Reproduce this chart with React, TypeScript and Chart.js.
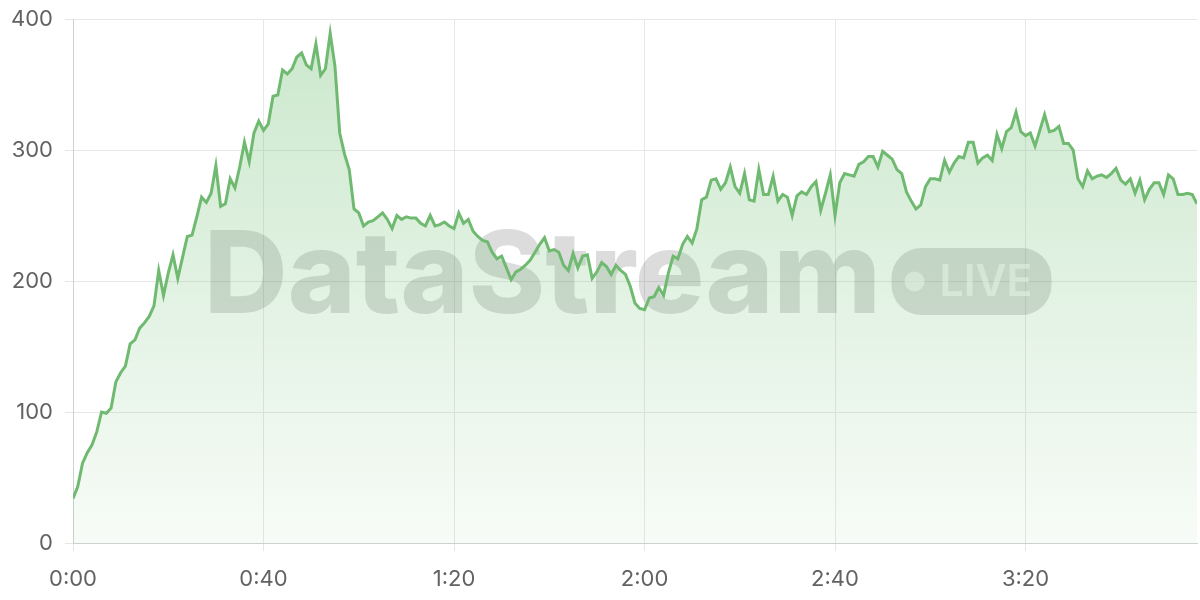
import React, { useEffect, useRef } from "react";
import { Chart, registerables } from "chart.js";

Chart.register(...registerables);

// one sample per second, 0:00 .. 3:56
const throughput: number[] = [
  34, 43, 61, 69, 75, 85, 100, 99, 103, 123,
  130, 135, 152, 155, 164, 168, 173, 181, 208, 189,
  206, 220, 202, 218, 234, 235, 249, 264, 260, 267,
  288, 257, 259, 278, 271, 287, 306, 291, 313, 322,
  315, 320, 341, 342, 361, 358, 362, 371, 374, 365,
  362, 381, 357, 362, 389, 364, 313, 297, 285, 255,
  252, 242, 245, 246, 249, 252, 247, 240, 250, 247,
  249, 248, 248, 244, 242, 250, 242, 243, 245, 242,
  240, 252, 244, 247, 238, 234, 231, 230, 222, 217,
  219, 210, 201, 207, 209, 212, 216, 222, 228, 233,
  223, 224, 222, 212, 208, 221, 210, 219, 220, 202,
  207, 214, 211, 205, 212, 208, 205, 196, 183, 179,
  178, 187, 188, 195, 189, 206, 219, 217, 228, 234,
  229, 240, 262, 264, 277, 278, 270, 275, 287, 272,
  267, 282, 262, 261, 285, 266, 266, 280, 261, 266,
  264, 250, 265, 268, 266, 272, 276, 254, 267, 281,
  250, 275, 282, 281, 280, 289, 291, 295, 295, 287,
  299, 296, 293, 285, 282, 268, 261, 255, 258, 272,
  278, 278, 277, 292, 283, 290, 295, 294, 306, 306,
  290, 294, 296, 292, 312, 301, 314, 317, 329, 314,
  311, 313, 303, 315, 327, 314, 315, 318, 305, 305,
  300, 278, 272, 284, 278, 280, 281, 279, 282, 286,
  277, 274, 278, 267, 277, 262, 270, 275, 275, 266,
  281, 278, 266, 266, 267, 266, 259,
];

const seconds: number[] = throughput.map((_, i) => i);

const xTickStepSeconds = 40;
const yMin = 0;
const yMax = 400;
const yTickStep = 100;

const watermarkText = "DataStream";
const badgeText = "LIVE";

const LINE_COLOR = "#6fba70";
const GRID_COLOR = "#e7e7e7";
const AXIS_COLOR = "#d0d0d0";
const TICK_COLOR = "#626262";
const FONT = "Inter, 'Noto Sans', sans-serif";

function formatTime(v: number): string {
  const m = Math.floor(v / 60);
  const s = Math.round(v % 60);
  return `${m}:${String(s).padStart(2, "0")}`;
}

const watermarkPlugin = {
  id: "watermark",
  beforeDatasetsDraw(chart: any) {
    const { ctx, chartArea: ca } = chart;
    if (!ca) return;
    ctx.save();
    ctx.fillStyle = "rgba(60,60,60,0.18)";
    ctx.font = `800 114px ${FONT}`;
    ctx.textBaseline = "alphabetic";
    ctx.textAlign = "left";
    const textLeft = ca.left + 131;
    const baseline = ca.top + 294;
    const targetW = 677;
    const w = ctx.measureText(watermarkText).width;
    ctx.save();
    ctx.translate(textLeft, baseline);
    ctx.scale(targetW / w, 1);
    ctx.fillText(watermarkText, 0, 0);
    ctx.restore();

    const bx = ca.left + 818.5;
    const by = ca.top + 229;
    const bw = 160;
    const bh = 67;
    const r = 30;
    ctx.beginPath();
    ctx.moveTo(bx + r, by);
    ctx.lineTo(bx + bw - r, by);
    ctx.arcTo(bx + bw, by, bx + bw, by + r, r);
    ctx.lineTo(bx + bw, by + bh - r);
    ctx.arcTo(bx + bw, by + bh, bx + bw - r, by + bh, r);
    ctx.lineTo(bx + r, by + bh);
    ctx.arcTo(bx, by + bh, bx, by + bh - r, r);
    ctx.lineTo(bx, by + r);
    ctx.arcTo(bx, by, bx + r, by, r);
    ctx.closePath();
    ctx.fill();

    ctx.fillStyle = "rgba(255,255,255,0.6)";
    ctx.beginPath();
    ctx.arc(bx + 23, by + bh / 2, 10, 0, Math.PI * 2);
    ctx.fill();

    ctx.font = `600 44px ${FONT}`;
    ctx.textBaseline = "middle";
    const lw = ctx.measureText(badgeText).width;
    ctx.save();
    ctx.translate(bx + 48, by + bh / 2 + 1);
    ctx.scale(93 / lw, 1);
    ctx.fillText(badgeText, 0, 0);
    ctx.restore();
    ctx.restore();
  },
};

export default function App() {
  const canvasRef = useRef<HTMLCanvasElement | null>(null);

  useEffect(() => {
    const canvas = canvasRef.current;
    if (!canvas) return;
    const chart = new Chart(canvas, {
      type: "line",
      data: {
        datasets: [
          {
            label: "Throughput",
            data: seconds.map((s, i) => ({ x: s, y: throughput[i] })),
            borderColor: LINE_COLOR,
            borderWidth: 3,
            pointRadius: 0,
            tension: 0,
            fill: "origin",
            backgroundColor: (c: any) => {
              const ch = c.chart;
              const ca = ch.chartArea;
              if (!ca) return "rgba(102,187,106,0.15)";
              const g = ch.ctx.createLinearGradient(0, ca.top, 0, ca.bottom);
              g.addColorStop(0, "rgba(102,187,106,0.34)");
              g.addColorStop(1, "rgba(102,187,106,0.05)");
              return g;
            },
          },
        ],
      },
      options: {
        animation: false,
        responsive: false,
        devicePixelRatio: 1,
        layout: { padding: { top: 19, right: 3, left: 0, bottom: 0 } },
        plugins: {
          legend: { display: false },
          tooltip: { enabled: false },
        },
        scales: {
          x: {
            type: "linear",
            min: 0,
            max: seconds[seconds.length - 1],
            afterBuildTicks: (scale: any) => {
              scale.ticks = scale.ticks.filter(
                (t: any) => t.value % xTickStepSeconds === 0
              );
            },
            afterFit: (scale: any) => {
              scale.height = 57;
              scale.paddingLeft = 0;
              scale.paddingRight = 0;
            },
            ticks: {
              stepSize: xTickStepSeconds,
              autoSkip: false,
              maxRotation: 0,
              padding: 15,
              color: TICK_COLOR,
              font: { family: FONT, size: 22 },
              callback: (v: any) => formatTime(Number(v)),
            },
            grid: { color: GRID_COLOR, tickLength: 8 },
            border: { color: AXIS_COLOR },
          },
          y: {
            min: yMin,
            max: yMax,
            afterFit: (scale: any) => {
              scale.width = 73;
              scale.paddingTop = 0;
              scale.paddingBottom = 0;
            },
            ticks: {
              stepSize: yTickStep,
              padding: 12,
              color: TICK_COLOR,
              font: { family: FONT, size: 22 },
            },
            grid: { color: GRID_COLOR, tickLength: 8 },
            border: { color: AXIS_COLOR },
          },
        },
      },
      plugins: [watermarkPlugin],
    });
    return () => chart.destroy();
  }, []);

  return (
    <div style={{ position: "fixed", left: 0, top: 0, width: 1200, height: 600, background: "#fff" }}>
      <canvas ref={canvasRef} width={1200} height={600} style={{ width: 1200, height: 600, display: "block" }} />
    </div>
  );
}
